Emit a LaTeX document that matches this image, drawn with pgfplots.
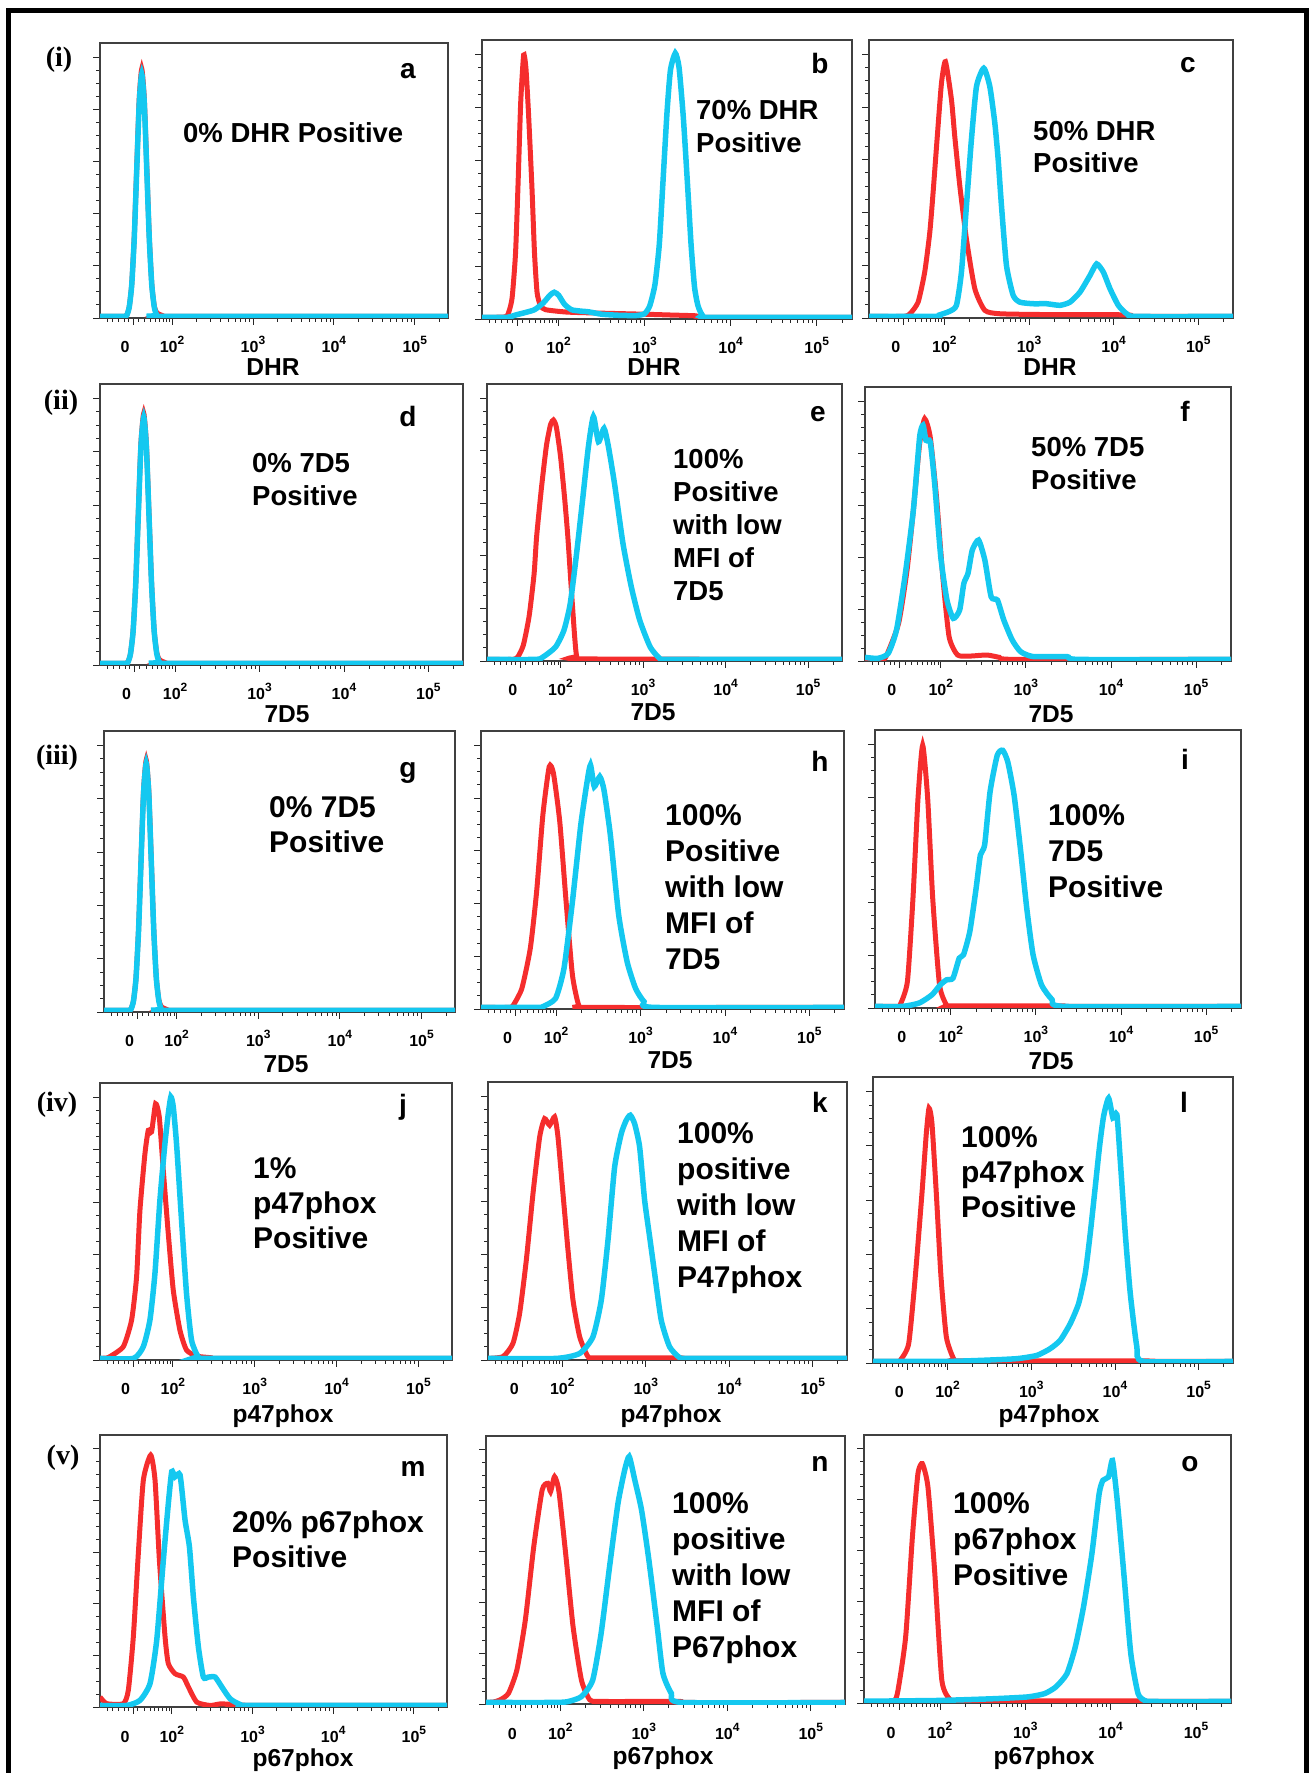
\documentclass[border=0pt]{standalone}
\usepackage{fontspec}
\setmainfont{Liberation Sans}
\newfontfamily\timesfont{Liberation Serif}
\usepackage{pgfplots}
\pgfplotsset{compat=1.18}
\definecolor{fred}{RGB}{245,45,45}
\definecolor{fblue}{RGB}{20,200,240}
\newcommand\annoA{\fontsize{27.5}{33}\selectfont\bfseries}
\newcommand\annoB{\fontsize{30}{36}\selectfont\bfseries}
\newcommand\letterf{\fontsize{28}{28}\selectfont\bfseries}
\newcommand\axlab{\fontsize{24.5}{24.5}\selectfont\bfseries}
\newcommand\ticklab{\fontsize{16}{16}\selectfont\bfseries}
\newcommand\rowlab{\fontsize{28}{28}\selectfont\timesfont\bfseries}
\newcommand\expo[1]{\raisebox{8pt}{\fontsize{12}{12}\selectfont #1}}
\pgfplotsset{
 facs/.style={scale only axis, anchor=south west,
  xmin=1.11, xmax=5.41, ymin=0, ymax=105.4,
  axis line style={black!75, line width=1.5pt},
  tick align=outside, tick pos=left,
  xtick={1.52,2,3,4,5},
  xticklabels={\makebox[0pt]{\hspace*{-16pt}0}, 10\expo{2}, 10\expo{3}, 10\expo{4}, 10\expo{5}},
  minor xtick={1.2,1.27,1.34,1.41,1.46,1.58,1.66,1.73,1.79,1.84,1.89,1.93,1.97,
   2.301,2.477,2.602,2.699,2.778,2.845,2.903,2.954,
   3.301,3.477,3.602,3.699,3.778,3.845,3.903,3.954,
   4.301,4.477,4.602,4.699,4.778,4.845,4.903,4.954,5.301},
  ytick={0,20,40,60,80,100}, yticklabels={}, minor y tick num=3,
  major tick length=7pt, minor tick length=4pt,
  tick style={black!85, line width=0.9pt},
  xticklabel style={font=\ticklab, anchor=base, yshift=-28pt},
 },
 fr/.style={color=fred, line width=5pt, smooth, tension=0.35, no markers},
 fb/.style={color=fblue, line width=5.5pt, smooth, tension=0.35, no markers},
}
\begin{document}
\begin{tikzpicture}[x=1pt,y=1pt]
\useasboundingbox (0,0) rectangle (1310,1773);
\draw[line width=5pt, black] (8,-5) -- (8,1762.5) -- (1306,1762.5) -- (1306,-5);

% ---------- row (i) ----------
\begin{axis}[facs, at={(100pt,1455pt)}, width=348pt, height=275pt]
\addplot[fr] coordinates {(1.11,0.6)(1.40,0.6)(1.44,1.1)(1.471,4.2)(1.502,12.9)(1.533,31.0)(1.564,57.9)(1.595,84.3)(1.626,95.5)(1.657,84.3)(1.688,57.9)(1.719,31.0)(1.75,12.9)(1.781,4.5)(1.812,2.0)(1.86,1.2)(1.95,0.6)(5.41,0.6)};
\addplot[fb] coordinates {(1.11,0.6)(1.40,0.6)(1.44,1.0)(1.471,4.1)(1.502,12.6)(1.533,30.3)(1.564,56.7)(1.595,82.5)(1.626,93.5)(1.657,82.5)(1.688,56.7)(1.719,30.3)(1.75,12.6)(1.781,4.1)(1.812,1.0)(1.85,0.6)(5.41,0.6)};
\end{axis}
\begin{axis}[facs, at={(482pt,1454pt)}, width=370pt, height=279pt]
\addplot[fr] coordinates {(1.11,0.6)(1.38,0.8)(1.42,2.5)(1.46,8)(1.5,25)(1.53,52)(1.56,82)(1.594,99.7)(1.62,95)(1.65,78)(1.69,50)(1.72,25)(1.75,10)(1.79,5)(1.85,3.5)(2.1,2.6)(2.5,2.2)(3.0,1.8)(3.3,1.5)(3.6,1.2)(3.7,0.6)(5.41,0.6)};
\addplot[fb] coordinates {(1.11,0.6)(1.4,0.6)(1.5,1.5)(1.62,2.5)(1.72,3.5)(1.82,6)(1.9,9)(1.95,10.1)(2.0,9)(2.07,5.5)(2.15,3.5)(2.25,3)(2.35,2.7)(2.5,1.8)(2.7,1.4)(2.9,1.3)(3.0,2)(3.06,5)(3.12,13)(3.17,28)(3.21,50)(3.26,78)(3.3,94)(3.356,100.4)(3.4,95)(3.45,76)(3.5,50)(3.54,28)(3.58,12)(3.62,5)(3.67,1.5)(3.75,0.6)(5.41,0.6)};
\end{axis}
\begin{axis}[facs, at={(869pt,1455pt)}, width=364pt, height=278pt]
\addplot[fr] coordinates {(1.11,0.6)(1.512,0.6)(1.591,1.5)(1.690,6.0)(1.768,17.4)(1.828,32.4)(1.867,47.5)(1.914,67.7)(1.966,89.0)(2.013,97.2)(2.084,82.8)(2.123,68.9)(2.183,50.0)(2.261,29.9)(2.36,11.1)(2.478,2.9)(2.656,1.6)(3.2,1.3)(4.154,1.2)(4.25,0.6)(5.41,0.6)};
\addplot[fb] coordinates {(1.11,0.6)(1.9,0.6)(1.946,1.2)(2.06,2.5)(2.143,4.8)(2.202,17.4)(2.261,42.5)(2.32,67.7)(2.38,87.8)(2.466,94.7)(2.537,87.8)(2.596,74.0)(2.636,60.1)(2.675,42.5)(2.734,19.9)(2.813,8.6)(2.892,6.0)(3.05,5.4)(3.208,5.4)(3.365,4.8)(3.484,6.0)(3.602,9.8)(3.72,16.1)(3.799,20.5)(3.878,17.4)(3.957,11.1)(4.055,4.8)(4.154,1.6)(4.272,0.6)(5.41,0.6)};
\end{axis}

% ---------- row (ii) ----------
\begin{axis}[facs, at={(100pt,1108pt)}, width=363pt, height=281pt]
\addplot[fr] coordinates {(1.11,0.6)(1.40,0.6)(1.44,1.1)(1.471,4.2)(1.502,12.8)(1.533,30.6)(1.564,57.2)(1.595,83.3)(1.628,94.4)(1.659,83.3)(1.69,57.2)(1.721,30.6)(1.752,12.8)(1.783,4.5)(1.814,2.0)(1.86,1.2)(1.95,0.6)(5.41,0.6)};
\addplot[fb] coordinates {(1.11,0.6)(1.40,0.6)(1.44,1.0)(1.471,4.1)(1.502,12.5)(1.533,30.2)(1.564,56.4)(1.595,82.1)(1.628,93.0)(1.659,82.1)(1.69,56.4)(1.721,30.2)(1.752,12.5)(1.783,4.1)(1.814,1.0)(1.85,0.6)(5.41,0.6)};
\end{axis}
\begin{axis}[facs, at={(487pt,1112pt)}, width=355pt, height=277pt]
\addplot[fr] coordinates {(1.11,0.6)(1.42,0.6)(1.482,1.5)(1.55,6)(1.62,17)(1.68,33)(1.711,47.3)(1.77,66)(1.83,82)(1.88,90)(1.915,91.7)(1.95,89)(2.0,78)(2.05,62)(2.089,47.3)(2.13,28)(2.17,10)(2.195,2)(2.25,0.8)(5.41,0.6)};
\addplot[fb] coordinates {(1.11,0.6)(1.7,0.6)(1.788,1.5)(1.94,5.3)(2.042,11.7)(2.118,21.8)(2.195,40.9)(2.272,62.5)(2.338,81.5)(2.399,93.0)(2.46,83.4)(2.527,88.5)(2.577,82.2)(2.654,67.6)(2.757,44.7)(2.858,28.2)(2.96,15.5)(3.087,5.3)(3.205,0.9)(3.3,0.6)(5.41,0.6)};
\end{axis}
\begin{axis}[facs, at={(865pt,1112pt)}, width=366pt, height=274pt]
\addplot[fr] coordinates {(1.11,0.6)(1.3,0.6)(1.357,1.7)(1.505,14.5)(1.604,35)(1.678,58)(1.752,83.6)(1.811,93.2)(1.876,86.2)(1.95,63.1)(2.024,32.4)(2.098,9.3)(2.197,2.3)(2.345,1.9)(2.543,2.3)(2.69,1.4)(2.888,0.6)(5.41,0.6)};
\addplot[fb] coordinates {(1.11,1.4)(1.258,1.0)(1.382,2.9)(1.48,11.9)(1.579,32.4)(1.678,58)(1.752,86.2)(1.792,90.7)(1.826,84.9)(1.876,84.3)(1.925,69.5)(2.0,40.1)(2.073,23.4)(2.147,16.4)(2.222,19.6)(2.271,29.8)(2.32,33.7)(2.37,42.6)(2.444,46.5)(2.518,38.8)(2.592,24.7)(2.666,23.4)(2.74,15.8)(2.839,8.1)(2.938,3.6)(3.086,1.7)(3.481,1.7)(3.629,0.6)(5.41,0.6)};
\end{axis}

% ---------- row (iii) ----------
\begin{axis}[facs, at={(104pt,761pt)}, width=351pt, height=281pt]
\addplot[fr] coordinates {(1.11,0.6)(1.40,0.6)(1.44,1.1)(1.471,4.2)(1.502,12.8)(1.533,30.7)(1.564,57.3)(1.595,83.4)(1.627,94.5)(1.658,83.4)(1.689,57.3)(1.72,30.7)(1.751,12.8)(1.782,4.5)(1.813,2.0)(1.86,1.2)(1.95,0.6)(5.41,0.6)};
\addplot[fb] coordinates {(1.11,0.6)(1.40,0.6)(1.44,1.0)(1.471,4.1)(1.502,12.6)(1.533,30.3)(1.564,56.6)(1.595,82.3)(1.627,93.3)(1.658,82.3)(1.689,56.6)(1.72,30.3)(1.751,12.6)(1.782,4.1)(1.813,1.0)(1.85,0.6)(5.41,0.6)};
\end{axis}
\begin{axis}[facs, at={(481pt,764pt)}, width=363pt, height=278pt]
\addplot[fr] coordinates {(1.11,0.6)(1.45,0.6)(1.494,1.5)(1.594,7.8)(1.694,23)(1.769,44.5)(1.843,73.6)(1.918,91.9)(1.968,89.4)(2.043,71)(2.118,40.7)(2.193,12.9)(2.267,1.5)(2.35,0.6)(5.41,0.6)};
\addplot[fb] coordinates {(1.11,0.6)(1.8,0.6)(1.843,0.9)(1.993,4)(2.093,15.4)(2.193,40.7)(2.292,69.8)(2.367,86.2)(2.407,92.5)(2.452,84.3)(2.517,88.1)(2.567,83)(2.642,66)(2.741,35.6)(2.841,17.9)(2.941,7.8)(3.041,2.8)(3.166,0.6)(5.41,0.6)};
\end{axis}
\begin{axis}[facs, at={(875pt,765pt)}, width=366pt, height=278pt]
\addplot[fr] coordinates {(1.11,0.6)(1.37,0.6)(1.407,1.3)(1.491,10.1)(1.556,41.6)(1.615,79.4)(1.67,99.6)(1.729,79.4)(1.788,41.6)(1.868,8.8)(1.952,1.0)(2.0,0.8)(3.3,0.8)(3.4,0.6)(5.41,0.6)};
\addplot[fb] coordinates {(1.11,0.6)(1.432,0.6)(1.63,1.9)(1.779,5)(1.878,8.8)(1.952,10.7)(2.026,11.3)(2.1,18.9)(2.15,20.2)(2.224,29)(2.298,45.4)(2.348,58)(2.398,61.8)(2.462,82)(2.546,95.8)(2.61,97.7)(2.67,93.3)(2.744,80.7)(2.818,60.5)(2.893,37.8)(2.967,20.2)(3.066,8.8)(3.19,3.2)(3.338,0.6)(5.41,0.6)};
\end{axis}

% ---------- row (iv) ----------
\begin{axis}[facs, at={(100pt,413pt)}, width=352pt, height=277pt]
\addplot[fr] coordinates {(1.11,0.6)(1.2,0.8)(1.232,1.3)(1.395,5.1)(1.496,15.2)(1.557,31.7)(1.598,57)(1.659,78.5)(1.7,87.4)(1.74,86.8)(1.789,97.5)(1.834,92.5)(1.883,72.2)(1.944,48.1)(2.005,26.6)(2.086,11.4)(2.167,3.8)(2.289,1.5)(2.452,0.9)(2.55,0.6)(5.41,0.6)};
\addplot[fb] coordinates {(1.11,0.6)(1.517,0.6)(1.639,5.1)(1.72,15.2)(1.781,32.9)(1.842,60.8)(1.903,82.3)(1.944,93.7)(1.976,100.1)(2.005,96.3)(2.045,82.3)(2.106,53.2)(2.167,25.3)(2.228,7.6)(2.309,1.3)(2.4,0.6)(5.41,0.6)};
\end{axis}
\begin{axis}[facs, at={(488pt,413pt)}, width=359pt, height=278pt]
\addplot[fr] coordinates {(1.11,0.6)(1.29,1.3)(1.409,6.3)(1.489,17.7)(1.569,37.9)(1.649,63.1)(1.729,84.6)(1.788,91.5)(1.848,89)(1.908,92.2)(1.948,84.6)(2.008,63.1)(2.068,41.7)(2.128,22.7)(2.208,8.8)(2.307,1.3)(2.4,0.8)(3.4,0.8)(3.5,0.6)(5.41,0.6)};
\addplot[fb] coordinates {(1.11,0.6)(1.928,0.6)(2.208,2.5)(2.367,8.8)(2.467,22.7)(2.547,45.4)(2.627,73.2)(2.706,85.8)(2.766,90.9)(2.814,92.8)(2.866,89.6)(2.926,80.8)(2.986,60.6)(3.046,46.7)(3.106,32.8)(3.185,15.1)(3.285,5)(3.405,0.9)(3.5,0.6)(5.41,0.6)};
\end{axis}
\begin{axis}[facs, at={(873pt,410pt)}, width=360pt, height=286pt]
\addplot[fr] coordinates {(1.11,0.6)(1.40,0.6)(1.436,1)(1.536,7.1)(1.615,31.8)(1.695,62.6)(1.747,84.7)(1.779,93.9)(1.814,88.4)(1.866,62.6)(1.922,31.8)(1.986,9.6)(2.073,1.6)(2.15,0.8)(4.3,0.8)(4.35,0.6)(5.41,0.6)};
\addplot[fb] coordinates {(1.11,0.6)(2.0,0.6)(2.431,1)(2.829,1.6)(3.068,2.8)(3.227,5.3)(3.347,8.4)(3.466,14.5)(3.566,21.9)(3.645,33)(3.705,47.8)(3.765,65)(3.816,79.8)(3.864,90.9)(3.924,97.6)(3.976,90.3)(4.023,91.5)(4.063,74.9)(4.123,47.8)(4.183,25.6)(4.262,5.9)(4.342,0.6)(5.41,0.6)};
\end{axis}

% ---------- row (v) ----------
\begin{axis}[facs, at={(100pt,66pt)}, width=347pt, height=272pt]
\addplot[fr] coordinates {(1.11,3.9)(1.193,1.3)(1.399,1.3)(1.461,6.5)(1.523,27.2)(1.585,59.5)(1.647,87.9)(1.738,97.6)(1.792,87.9)(1.846,56.9)(1.916,27.2)(1.957,16.8)(2.04,12.9)(2.143,11.6)(2.205,7.8)(2.309,1.9)(2.474,0.6)(2.6,1.2)(2.75,1.0)(2.85,0.6)(5.41,0.6)};
\addplot[fb] coordinates {(1.11,0.6)(1.441,0.6)(1.606,2.6)(1.73,9.1)(1.813,25.9)(1.895,56.9)(1.957,78.9)(1.999,91.2)(2.04,89.2)(2.102,89.9)(2.164,72.4)(2.218,62.1)(2.267,42.7)(2.329,23.3)(2.391,11.6)(2.453,11.6)(2.536,11.6)(2.619,7.8)(2.722,3.2)(2.846,1)(3.011,0.6)(5.41,0.6)};
\end{axis}
\begin{axis}[facs, at={(486pt,69pt)}, width=359pt, height=268pt]
\addplot[fr] coordinates {(1.11,0.6)(1.2,0.8)(1.278,1.6)(1.379,4.2)(1.48,13.4)(1.581,33)(1.682,61.9)(1.783,84.2)(1.85,86.8)(1.883,83.5)(1.931,89.4)(1.984,83.5)(2.072,56.6)(2.153,30.4)(2.253,9.4)(2.354,1.6)(2.489,1.0)(3.43,1.0)(3.5,0.6)(5.41,0.6)};
\addplot[fb] coordinates {(1.11,0.6)(1.9,0.6)(2.085,0.9)(2.253,2.9)(2.388,9.4)(2.489,27.8)(2.59,54)(2.691,78.9)(2.771,92)(2.825,97.3)(2.892,88.1)(2.973,76.3)(3.061,56.6)(3.161,30.4)(3.229,12.1)(3.33,4.2)(3.464,0.6)(5.41,0.6)};
\end{axis}
\begin{axis}[facs, at={(864pt,70pt)}, width=367pt, height=268pt]
\addplot[fr] coordinates {(1.11,0.6)(1.436,0.6)(1.501,3.7)(1.598,26)(1.677,65.3)(1.742,90.2)(1.794,94.1)(1.859,85)(1.937,52.2)(2.022,8.9)(2.119,1.3)(2.2,0.8)(4.33,0.8)(4.4,0.6)(5.41,0.6)};
\addplot[fb] coordinates {(1.11,0.7)(1.989,1)(2.64,1.7)(3.031,2.4)(3.226,3.7)(3.357,6.3)(3.487,11.5)(3.585,22)(3.682,37.8)(3.78,58.7)(3.865,82.3)(3.91,87.6)(3.975,88.9)(4.021,95.4)(4.073,81)(4.151,52.2)(4.236,19.4)(4.321,3.7)(4.399,1)(4.5,0.6)(5.41,0.6)};
\end{axis}

% ---------- row labels ----------
\node[font=\rowlab] at (59,1713) {(i)};
\node[font=\rowlab] at (61,1370) {(ii)};
\node[font=\rowlab] at (57,1015) {(iii)};
\node[font=\rowlab] at (57,668) {(iv)};
\node[font=\rowlab] at (63,315) {(v)};

% ---------- panel letters ----------
\node[font=\letterf, anchor=base] at (408,1694) {a};
\node[font=\letterf, anchor=base] at (820,1699) {b};
\node[font=\letterf, anchor=base] at (1188,1700) {c};
\node[font=\letterf, anchor=base] at (408,1346) {d};
\node[font=\letterf, anchor=base] at (818,1351) {e};
\node[font=\letterf, anchor=base] at (1185,1351) {f};
\node[font=\letterf, anchor=base] at (408,995) {g};
\node[font=\letterf, anchor=base] at (820,1001) {h};
\node[font=\letterf, anchor=base] at (1185,1003) {i};
\node[font=\letterf, anchor=base] at (403,658) {j};
\node[font=\letterf, anchor=base] at (820,660) {k};
\node[font=\letterf, anchor=base] at (1184,660) {l};
\node[font=\letterf, anchor=base] at (413,296) {m};
\node[font=\letterf, anchor=base] at (820,301) {n};
\node[font=\letterf, anchor=base] at (1190,301) {o};

% ---------- axis labels ----------
\node[font=\axlab, anchor=base] at (273,1397) {DHR};
\node[font=\axlab, anchor=base] at (654,1397) {DHR};
\node[font=\axlab, anchor=base] at (1050,1397) {DHR};
\node[font=\axlab, anchor=base] at (287,1050) {7D5};
\node[font=\axlab, anchor=base] at (653,1052) {7D5};
\node[font=\axlab, anchor=base] at (1051,1050) {7D5};
\node[font=\axlab, anchor=base] at (286,700) {7D5};
\node[font=\axlab, anchor=base] at (670,704) {7D5};
\node[font=\axlab, anchor=base] at (1051,703) {7D5};
\node[font=\axlab, anchor=base] at (283,350) {p47phox};
\node[font=\axlab, anchor=base] at (671,350) {p47phox};
\node[font=\axlab, anchor=base] at (1049,350) {p47phox};
\node[font=\axlab, anchor=base] at (303,6) {p67phox};
\node[font=\axlab, anchor=base] at (663,9) {p67phox};
\node[font=\axlab, anchor=base] at (1044,9) {p67phox};

% ---------- annotations ----------
\begin{scope}[every node/.style={anchor=base west, inner sep=0pt}]
\node[font=\annoA] at (183,1630) {0\% DHR Positive};
\node[font=\annoA] at (696,1653) {70\% DHR};
\node[font=\annoA] at (696,1620) {Positive};
\node[font=\annoA] at (1033,1632) {50\% DHR};
\node[font=\annoA] at (1033,1600) {Positive};
\node[font=\annoA] at (252,1300) {0\% 7D5};
\node[font=\annoA] at (252,1267) {Positive};
\node[font=\annoA] at (673,1304) {100\%};
\node[font=\annoA] at (673,1271) {Positive};
\node[font=\annoA] at (673,1238) {with low};
\node[font=\annoA] at (673,1205) {MFI of};
\node[font=\annoA] at (673,1172) {7D5};
\node[font=\annoA] at (1031,1316) {50\% 7D5};
\node[font=\annoA] at (1031,1283) {Positive};
\node[font=\annoB] at (269,955) {0\% 7D5};
\node[font=\annoB] at (269,920) {Positive};
\node[font=\annoB] at (665,947) {100\%};
\node[font=\annoB] at (665,911) {Positive};
\node[font=\annoB] at (665,875) {with low};
\node[font=\annoB] at (665,839) {MFI of};
\node[font=\annoB] at (665,803) {7D5};
\node[font=\annoB] at (1048,947) {100\%};
\node[font=\annoB] at (1048,911) {7D5};
\node[font=\annoB] at (1048,875) {Positive};
\node[font=\annoB] at (253,594) {1\%};
\node[font=\annoB] at (253,559) {p47phox};
\node[font=\annoB] at (253,524) {Positive};
\node[font=\annoB] at (677,629) {100\%};
\node[font=\annoB] at (677,593) {positive};
\node[font=\annoB] at (677,557) {with low};
\node[font=\annoB] at (677,521) {MFI of};
\node[font=\annoB] at (677,485) {P47phox};
\node[font=\annoB] at (961,625) {100\%};
\node[font=\annoB] at (961,590) {p47phox};
\node[font=\annoB] at (961,555) {Positive};
\node[font=\annoB] at (232,240) {20\% p67phox};
\node[font=\annoB] at (232,205) {Positive};
\node[font=\annoB] at (672,259) {100\%};
\node[font=\annoB] at (672,223) {positive};
\node[font=\annoB] at (672,187) {with low};
\node[font=\annoB] at (672,151) {MFI of};
\node[font=\annoB] at (672,115) {P67phox};
\node[font=\annoB] at (953,259) {100\%};
\node[font=\annoB] at (953,223) {p67phox};
\node[font=\annoB] at (953,187) {Positive};
\end{scope}
\end{tikzpicture}
\end{document}
